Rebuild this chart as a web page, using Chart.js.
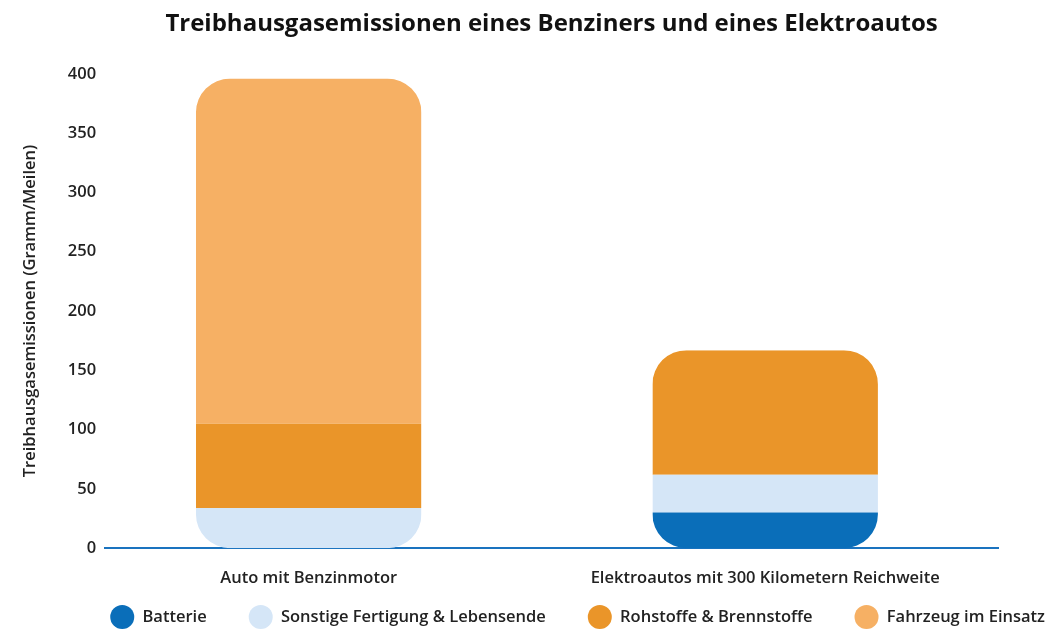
<!DOCTYPE html>
<html lang="de">
<head>
<meta charset="utf-8">
<title>Treibhausgasemissionen</title>
<script src="https://cdn.jsdelivr.net/npm/chart.js@4.4.1/dist/chart.umd.min.js"></script>
<style>
  html, body { margin: 0; padding: 0; background: #fff; }
  #wrap { width: 1050px; height: 630px; }
</style>
</head>
<body>
<div id="wrap"><canvas id="chart"></canvas></div>
<script>
// Daten
const kategorien = ['Auto mit Benzinmotor', 'Elektroautos mit 300 Kilometern Reichweite'];
const batterie = [0, 30];
const sonstigeFertigung = [34, 32];
const rohstoffe = [71, 105];
const fahrzeugImEinsatz = [291, 0];

// Ausschnitt der x-Achse (die Balken sitzen nicht symmetrisch)
const X_MIN = -0.446;
const X_MAX = 1.51;

const FONT = "'Open Sans', 'Noto Sans', sans-serif";

function punkte(werte) {
  return werte.map(function (v, i) { return { x: i, y: v }; });
}

// Stapel als Ganzes mit runden Ecken beschneiden (Position kommt aus den Balken selbst)
const roundedStacks = {
  id: 'roundedStacks',
  beforeDatasetsDraw(chart, args, opts) {
    const ctx = chart.ctx;
    ctx.save();
    ctx.beginPath();
    kategorien.forEach(function (_, i) {
      let top = Infinity, bottom = -Infinity, left = 0, width = 0;
      chart.data.datasets.forEach(function (ds, d) {
        const bar = chart.getDatasetMeta(d).data[i];
        if (!bar || !ds.data[i].y) return;
        const p = bar.getProps(['x', 'y', 'base', 'width'], true);
        top = Math.min(top, p.y, p.base);
        bottom = Math.max(bottom, p.y, p.base);
        left = p.x - p.width / 2;
        width = p.width;
      });
      if (width) ctx.roundRect(left, top, width, bottom - top, opts.radius);
    });
    ctx.clip();
  },
  afterDatasetsDraw(chart) {
    chart.ctx.restore();
  }
};

// Legende unten rechts platzieren
const legendPlace = {
  id: 'legendPlace',
  beforeDraw(chart, args, opts) {
    const lg = chart.legend;
    const pad = lg.options.labels.padding;
    lg.right = chart.width - opts.right + pad;
    lg.top = chart.height - opts.bottom - lg.options.labels.boxHeight - pad;
  }
};

const ctx = document.getElementById('chart').getContext('2d');

const myChart = new Chart(ctx, {
  type: 'bar',
  data: {
    datasets: [
      { label: 'Batterie', data: punkte(batterie), backgroundColor: '#0a6eb9' },
      { label: 'Sonstige Fertigung & Lebensende', data: punkte(sonstigeFertigung), backgroundColor: '#d5e6f7' },
      { label: 'Rohstoffe & Brennstoffe', data: punkte(rohstoffe), backgroundColor: '#ea9529' },
      { label: 'Fahrzeug im Einsatz', data: punkte(fahrzeugImEinsatz), backgroundColor: '#f6b064' }
    ]
  },
  options: {
    responsive: true,
    maintainAspectRatio: false,
    animation: false,
    datasets: {
      bar: {
        borderWidth: 0,
        categoryPercentage: 1,
        barPercentage: 0.494
      }
    },
    layout: {
      padding: { left: 0, right: 0, top: 0, bottom: 0 }
    },
    scales: {
      x: {
        type: 'linear',
        stacked: true,
        offset: false,
        min: X_MIN,
        max: X_MAX,
        grid: { display: false, drawTicks: false },
        border: { display: true, color: '#1a73bf', width: 2 },
        afterBuildTicks: function (scale) {
          scale.ticks = kategorien.map(function (_, i) { return { value: i }; });
        },
        ticks: {
          padding: 20,
          color: '#222',
          font: { family: FONT, size: 16.5, weight: '600' },
          callback: function (value) { return kategorien[value]; }
        }
      },
      y: {
        stacked: true,
        min: 0,
        max: 400,
        grid: { display: false, drawTicks: false },
        border: { display: false },
        ticks: {
          stepSize: 50,
          padding: 9,
          color: '#222',
          font: { family: FONT, size: 16.5, weight: '600' }
        },
        title: {
          display: true,
          text: 'Treibhausgasemissionen (Gramm/Meilen)',
          color: '#222',
          padding: { top: 20, bottom: 19 },
          font: { family: FONT, size: 16.5, weight: '600' }
        }
      },
      // leerer Rand rechts, damit die Legende die volle Breite behält
      yRand: {
        type: 'linear',
        position: 'right',
        grid: { display: false, drawTicks: false },
        border: { display: false },
        ticks: { display: false },
        afterFit: function (scale) { scale.width = 52; }
      }
    },
    plugins: {
      roundedStacks: { radius: 34 },
      legendPlace: { right: 5, bottom: 1 },
      title: {
        display: true,
        fullSize: false,
        text: 'Treibhausgasemissionen eines Benziners und eines Elektroautos',
        color: '#111',
        padding: { top: 10, bottom: 35 },
        font: { family: FONT, size: 24, weight: 'bold' }
      },
      legend: {
        position: 'bottom',
        align: 'end',
        maxHeight: 22,
        labels: {
          boxWidth: 24,
          boxHeight: 24,
          useBorderRadius: true,
          borderRadius: 12,
          padding: 42,
          color: '#222',
          font: { family: FONT, size: 16.5, weight: '600' }
        }
      },
      tooltip: { enabled: false }
    }
  },
  plugins: [roundedStacks, legendPlace]
});
</script>
</body>
</html>
